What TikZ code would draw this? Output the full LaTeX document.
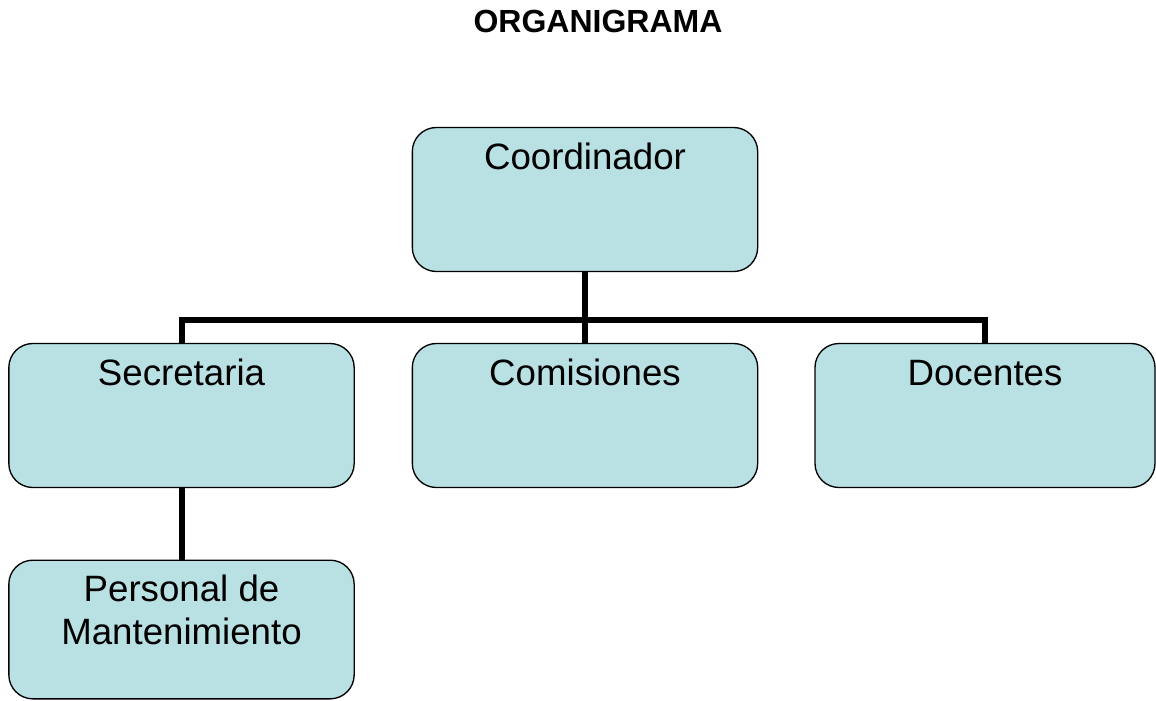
\documentclass[tikz,border=0pt]{standalone}
\usepackage{fontspec}
\setmainfont{Liberation Sans}
\definecolor{cajaazul}{RGB}{185,224,227}

\begin{document}
\begin{tikzpicture}[x=0.75pt,y=-0.75pt,
    caja/.style={draw=black, line width=1pt, fill=cajaazul, rounded corners=18pt,
                 minimum width=259pt, minimum height=108pt, inner sep=0pt},
    texto/.style={font=\fontsize{27.5}{32.25}\selectfont, align=center, inner sep=0pt, anchor=base},
    enlace/.style={line width=4.5pt}]
    \useasboundingbox (0,0) rectangle (1156,700);

    % title
    \node[font=\fontsize{24}{28}\selectfont\bfseries, anchor=base] (titulo) at (598,32) {ORGANIGRAMA};

    % boxes
    \node[caja] (coord) at (585,199.5) {};
    \node[caja] (secre) at (181.5,415.5) {};
    \node[caja] (comis) at (585,415.5) {};
    \node[caja, minimum width=255pt] (docen) at (985,415.5) {};
    \node[caja, minimum height=104pt] (perso) at (181.5,629.5) {};

    % connectors
    \coordinate (bus) at (585,320);
    \draw[enlace] (coord.south) -- (bus);
    \draw[enlace] (secre.north) |- (bus) -| (docen.north);
    \draw[enlace] (bus) -- (comis.north);
    \draw[enlace] (secre.south) -- (perso.north);

    % labels
    \node[texto] (coordtxt) at ([yshift=-32.25pt]coord.north) {Coordinador};
    \node[texto] (secretxt) at ([yshift=-32.25pt]secre.north) {Secretaria};
    \node[texto] (comistxt) at ([yshift=-32.25pt]comis.north) {Comisiones};
    \node[texto] (docentxt) at ([yshift=-32.25pt]docen.north) {Docentes};
    \node[texto] (persotxt) at ([yshift=-64pt]perso.north) {Personal de\\Mantenimiento};
\end{tikzpicture}
\end{document}
